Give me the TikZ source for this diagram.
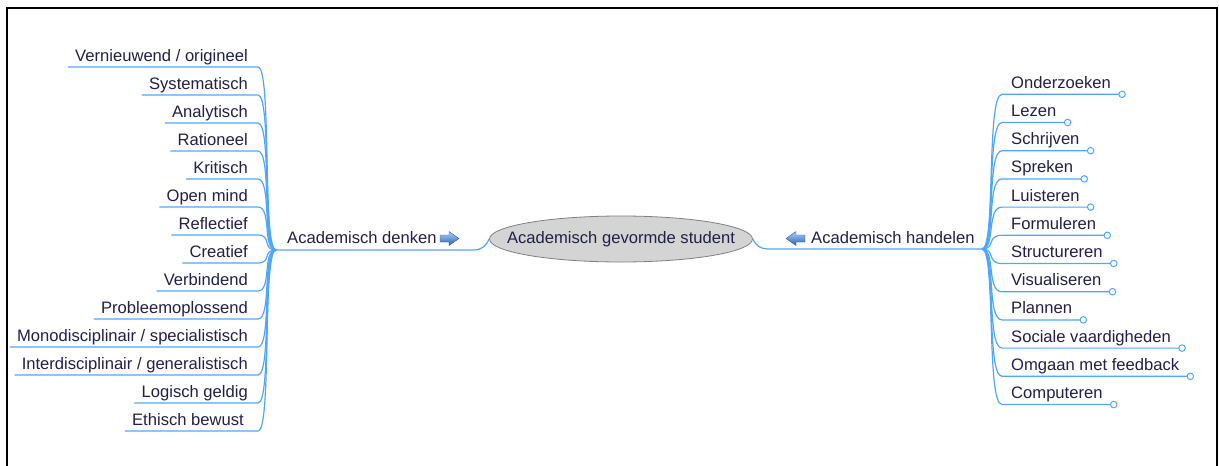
\documentclass[tikz,border=0pt]{standalone}
\usepackage{fontspec}
\setmainfont{Liberation Sans}
\usetikzlibrary{calc,shapes.geometric}
\definecolor{txtc}{HTML}{202048}
\definecolor{linkc}{HTML}{4FA6FF}
\definecolor{arrowlight}{HTML}{B0D2F8}
\definecolor{arrowdark}{HTML}{2C5DB0}
\begin{document}
\begin{tikzpicture}[x=1pt,y=-1pt,
  every node/.style={font=\fontsize{16.6}{18}\selectfont, text=txtc, inner sep=0pt},
  link/.style={draw=linkc, line width=1.2pt},
  endcircle/.style={circle, draw=linkc, fill=white, minimum size=6.5pt, inner sep=0pt, line width=1pt},
  blockarrow/.style={top color=arrowlight, bottom color=arrowdark, draw=arrowdark, line width=0.4pt},
  center/.style={ellipse, draw=black!50, fill=black!17, line width=0.8pt, inner sep=0pt, minimum width=263pt, minimum height=46pt}]
\useasboundingbox (0,0) rectangle (1219,466);
% frame
\draw[line width=2pt, line cap=rect] (7,466) -- (7,8) -- (1217,8) -- (1217,466);

% centre
\node[center] (C) at (621,239) {\makebox[0pt]{Academisch gevormde student}};

% hubs
\coordinate (HL) at (276,250);
\coordinate (HR) at (982,249);

% main branches
\node[anchor=base west] (AD) at (287,243) {Academisch denken};
\node[anchor=base west] (AH) at (811,243) {Academisch handelen};
\draw[link] (HL) -- (473,250) .. controls (482,250) and (486,246) .. (C.west);
\draw[link] (C.east) .. controls (756,246) and (761,249) .. (768,249) -- (HR);

% arrow icons
\draw[blockarrow] (440,235) -- (449,235) -- (449,231.5) -- (459,238.5) -- (449,245.5) -- (449,242) -- (440,242) -- cycle;
\draw[blockarrow] (805,235) -- (796,235) -- (796,231.5) -- (786,238.5) -- (796,245.5) -- (796,242) -- (805,242) -- cycle;

% left children
\foreach \t [count=\i from 0] in {Vernieuwend / origineel, Systematisch, Analytisch, Rationeel, Kritisch, Open mind, Reflectief, Creatief, Verbindend, Probleemoplossend, Monodisciplinair / specialistisch, Interdisciplinair / generalistisch, Logisch geldig, Ethisch bewust}{
  \pgfmathsetmacro\yy{67+28*\i}
  \ifnum\i=13 \def\xr{244}\else\def\xr{248}\fi
  \node[anchor=base east] (L\i) at (\xr,\yy-6) {\t};
  \draw[link] ([shift={(-7,6)}]L\i.base west) -- (258,\yy) .. controls (272,\yy) and (262,250) .. (HL);
}

% right children
\foreach \t [count=\i from 0] in {Onderzoeken, Lezen, Schrijven, Spreken, Luisteren, Formuleren, Structureren, Visualiseren, Plannen, Sociale vaardigheden, Omgaan met feedback, Computeren}{
  \pgfmathsetmacro\yy{94.3+28.2*\i}
  \node[anchor=base west] (R\i) at (1011,\yy-6) {\t};
  \coordinate (E\i) at ([shift={(11,6)}]R\i.base east);
  \draw[link] (HR) .. controls (996,249) and (986,\yy) .. (1002,\yy) -- (E\i);
  \node[endcircle] (O\i) at (E\i) {};
}
\end{tikzpicture}
\end{document}
